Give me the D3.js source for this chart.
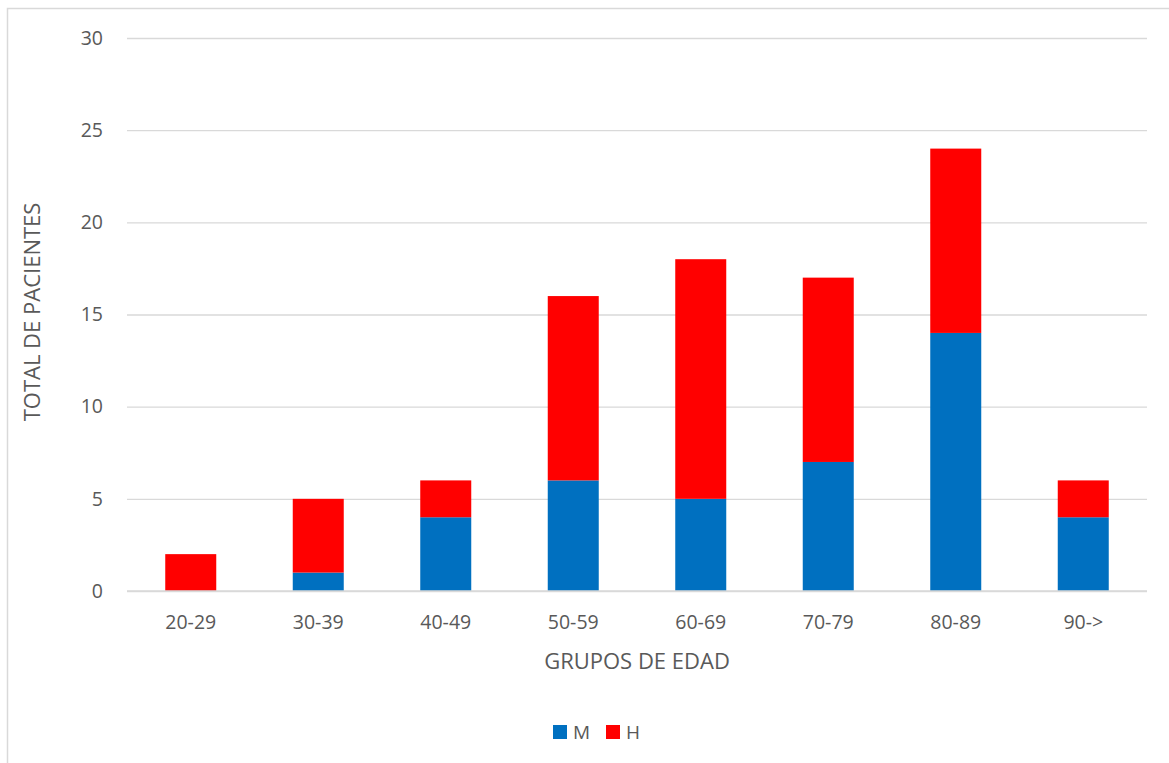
<!DOCTYPE html>
<html>
<head>
<meta charset="utf-8">
<script src="https://cdn.jsdelivr.net/npm/d3@7"></script>
<style>
  body { margin: 0; background: #fff; overflow: hidden; }
  svg { display: block; }
</style>
</head>
<body>
<div id="chart"></div>
<script>
const groups = ["20-29", "30-39", "40-49", "50-59", "60-69", "70-79", "80-89", "90->"];
const mValues = [0, 1, 4, 6, 5, 7, 14, 4];
const hValues = [2, 4, 2, 10, 13, 10, 10, 2];
const seriesNames = ["M", "H"];
const seriesColors = ["#0070c0", "#ff0000"];
const yTicks = [0, 5, 10, 15, 20, 25, 30];

let width = 1169;
let height = 763;
let plotLeft = 127, plotRight = 1147, plotTop = 38, plotBottom = 591;
let font = "'Open Sans', 'Liberation Sans', sans-serif";

let rows = groups.map((g, i) => ({ group: g, M: mValues[i], H: hValues[i] }));
let stacked = d3.stack().keys(seriesNames)(rows);

//scales
let xScale = d3.scaleBand()
    .domain(groups)
    .range([plotLeft, plotRight])
    .paddingInner(0.6)
    .paddingOuter(0.3);

let yScale = d3.scaleLinear()
    .domain([0, 30])
    .range([plotBottom, plotTop]);

let color = d3.scaleOrdinal().domain(seriesNames).range(seriesColors);

let svg = d3.select("#chart")
    .append("svg")
    .attr("width", width)
    .attr("height", height)
    .attr("font-family", font);

// outer frame
svg.append("rect")
    .attr("x", 7.5).attr("y", 8.5)
    .attr("width", width + 10).attr("height", height + 10)
    .attr("fill", "none")
    .attr("stroke", "#d9d9d9")
    .attr("stroke-width", 1.5);

// grid lines
let yAxis = d3.axisLeft(yScale)
    .tickValues(yTicks)
    .tickSize(-(plotRight - plotLeft))
    .tickPadding(24);

let gy = svg.append("g")
    .attr("transform", "translate(" + plotLeft + ",0)")
    .call(yAxis)
    .attr("font-family", font);
gy.select(".domain").remove();
gy.selectAll(".tick line").attr("stroke", "#d9d9d9").attr("stroke-width", 1.3);
gy.selectAll(".tick text")
    .attr("fill", "#595959")
    .attr("font-size", "19.5px");

// bars
svg.append("g")
    .selectAll("g")
    .data(stacked)
    .join("g")
    .attr("fill", d => color(d.key))
    .selectAll("rect")
    .data(d => d)
    .join("rect")
    .attr("x", d => xScale(d.data.group))
    .attr("y", d => yScale(d[1]))
    .attr("width", xScale.bandwidth())
    .attr("height", d => yScale(d[0]) - yScale(d[1]));

// x axis
let xAxis = d3.axisBottom(xScale).tickSize(0).tickPadding(24);
let gx = svg.append("g")
    .attr("transform", "translate(0," + plotBottom + ")")
    .call(xAxis)
    .attr("font-family", font);
gx.select(".domain")
    .attr("stroke", "#d9d9d9")
    .attr("stroke-width", 1.3)
    .attr("d", "M" + plotLeft + ",0H" + plotRight);
gx.selectAll(".tick text")
    .attr("fill", "#595959")
    .attr("font-size", "19.5px");

// axis titles
svg.append("text")
    .attr("x", (plotLeft + plotRight) / 2)
    .attr("y", 669)
    .attr("fill", "#595959")
    .attr("font-size", "22px")
    .style("text-anchor", "middle")
    .text("GRUPOS DE EDAD");

svg.append("text")
    .attr("transform", "rotate(-90)")
    .attr("x", -312)
    .attr("y", 40)
    .attr("fill", "#595959")
    .attr("font-size", "22px")
    .style("text-anchor", "middle")
    .text("TOTAL DE PACIENTES");

// legend
let legendX = [553, 606];
let legend = svg.append("g")
    .selectAll("g")
    .data(seriesNames)
    .join("g")
    .attr("transform", (d, i) => "translate(" + legendX[i] + ",725)");
legend.append("rect")
    .attr("width", 14).attr("height", 14)
    .attr("fill", d => color(d));
legend.append("text")
    .attr("x", 20).attr("y", 14)
    .attr("fill", "#595959")
    .attr("font-size", "19px")
    .text(d => d);
</script>
</body>
</html>
